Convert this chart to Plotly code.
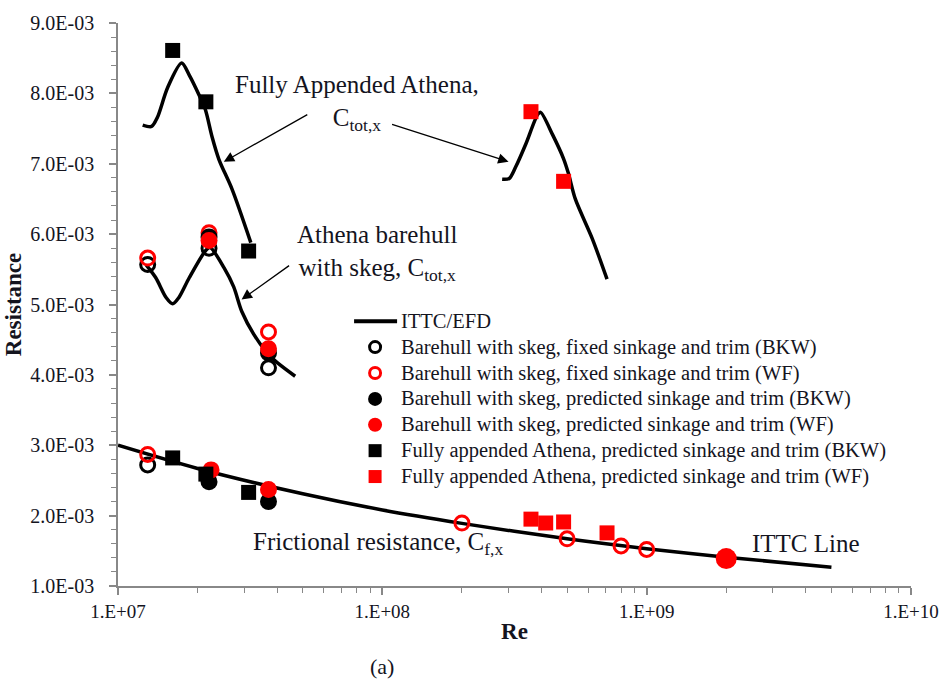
import plotly.graph_objects as go

# ---- ITTC / EFD reference curves (Re, resistance coefficient) ----
ittc_re = [1e7, 2e7, 5e7, 1e8, 2e8, 5e8, 1e9, 2e9, 5e9]
ittc_cf = [3.00e-3, 2.67e-3, 2.31e-3, 2.08e-3, 1.89e-3, 1.67e-3, 1.53e-3, 1.41e-3, 1.265e-3]

bare_efd_re = [1.28e7, 1.39e7, 1.52e7, 1.61e7, 1.70e7, 1.86e7, 2.15e7, 2.23e7, 2.52e7, 2.74e7, 2.94e7, 3.26e7, 3.77e7, 4.68e7]
bare_efd_ct = [5.56e-3, 5.38e-3, 5.10e-3, 5.01e-3, 5.10e-3, 5.38e-3, 5.77e-3, 5.81e-3, 5.52e-3, 5.25e-3, 4.90e-3, 4.58e-3, 4.26e-3, 3.98e-3]

full_bkw_efd_re = [1.24e7, 1.34e7, 1.41e7, 1.54e7, 1.74e7, 1.86e7, 2.03e7, 2.14e7, 2.27e7, 2.41e7, 2.70e7, 3.18e7]
full_bkw_efd_ct = [7.55e-3, 7.53e-3, 7.66e-3, 8.08e-3, 8.43e-3, 8.26e-3, 7.97e-3, 7.77e-3, 7.38e-3, 7.06e-3, 6.64e-3, 5.88e-3]

full_wf_efd_re = [2.84e8, 3.02e8, 3.20e8, 3.49e8, 3.87e8, 3.97e8, 4.41e8, 4.85e8, 5.06e8, 5.37e8, 6.22e8, 7.08e8]
full_wf_efd_ct = [6.78e-3, 6.79e-3, 6.96e-3, 7.28e-3, 7.70e-3, 7.73e-3, 7.41e-3, 7.07e-3, 6.86e-3, 6.50e-3, 5.94e-3, 5.36e-3]

# ---- CFD results ----
bh_fixed_bkw_re = [1.295e7, 1.295e7, 2.21e7, 3.71e7]
bh_fixed_bkw_c = [2.72e-3, 5.57e-3, 5.80e-3, 4.10e-3]

bh_fixed_wf_re = [1.295e7, 1.295e7, 2.21e7, 3.71e7, 2.0e8, 5.0e8, 8.0e8, 1.0e9]
bh_fixed_wf_c = [2.87e-3, 5.66e-3, 6.02e-3, 4.61e-3, 1.895e-3, 1.67e-3, 1.57e-3, 1.52e-3]

bh_pred_bkw_re = [2.21e7, 3.71e7, 2.21e7, 3.71e7]
bh_pred_bkw_c = [2.48e-3, 2.20e-3, 5.96e-3, 4.31e-3]

bh_pred_wf_re = [2.25e7, 3.71e7, 2.21e7, 3.71e7]
bh_pred_wf_c = [2.65e-3, 2.37e-3, 5.91e-3, 4.37e-3]
ittc_point_re = [2.0e9]
ittc_point_c = [1.39e-3]

fa_bkw_re = [1.61e7, 2.15e7, 3.12e7, 1.61e7, 2.15e7, 3.12e7]
fa_bkw_c = [2.82e-3, 2.59e-3, 2.33e-3, 8.61e-3, 7.88e-3, 5.76e-3]

fa_wf_re = [3.65e8, 4.15e8, 4.85e8, 7.08e8, 3.65e8, 4.85e8]
fa_wf_c = [1.95e-3, 1.895e-3, 1.91e-3, 1.755e-3, 7.74e-3, 6.75e-3]

# ---- axis ticks ----
x_tickvals = [1e7, 1e8, 1e9, 1e10]
x_ticktext = ["1.E+07", "1.E+08", "1.E+09", "1.E+10"]
y_tickvals = [1e-3, 2e-3, 3e-3, 4e-3, 5e-3, 6e-3, 7e-3, 8e-3, 9e-3]
y_ticktext = ["1.0E-03", "2.0E-03", "3.0E-03", "4.0E-03", "5.0E-03",
              "6.0E-03", "7.0E-03", "8.0E-03", "9.0E-03"]
x_minor = [m * 10 ** k for k in (7, 8, 9) for m in range(2, 10)]

# ---- legend entries ----
legend_names = [
    "ITTC/EFD",
    "Barehull with skeg, fixed sinkage and trim (BKW)",
    "Barehull with skeg, fixed sinkage and trim (WF)",
    "Barehull with skeg, predicted sinkage and trim (BKW)",
    "Barehull with skeg, predicted sinkage and trim (WF)",
    "Fully appended Athena, predicted sinkage and trim (BKW)",
    "Fully appended Athena, predicted sinkage and trim (WF)",
]

FONT = "Liberation Serif, Times New Roman, serif"
TXT = "#14141e"
RED = "#ff0000"

# marker styles: (kind, colour)
styles = [
    ("line", "black"),
    ("ring", "black"),
    ("ring", RED),
    ("disc", "black"),
    ("disc", RED),
    ("square", "black"),
    ("square", RED),
]

fig = go.Figure()

# EFD / ITTC curves
for xs, ys in [(ittc_re, ittc_cf), (bare_efd_re, bare_efd_ct),
               (full_bkw_efd_re, full_bkw_efd_ct), (full_wf_efd_re, full_wf_efd_ct)]:
    fig.add_trace(go.Scatter(
        x=xs, y=ys, mode="lines", name=legend_names[0],
        line=dict(color="black", width=3.5, shape="spline", smoothing=0.8),
    ))

series = [
    (bh_fixed_bkw_re, bh_fixed_bkw_c, dict(symbol="circle-open", size=14, color="black", line=dict(width=3, color="black"))),
    (bh_fixed_wf_re, bh_fixed_wf_c, dict(symbol="circle-open", size=14, color=RED, line=dict(width=3, color=RED))),
    (bh_pred_bkw_re, bh_pred_bkw_c, dict(symbol="circle", size=17, color="black")),
    (bh_pred_wf_re, bh_pred_wf_c, dict(symbol="circle", size=17, color=RED)),
    (ittc_point_re, ittc_point_c, dict(symbol="circle", size=21, color=RED)),
    (fa_bkw_re, fa_bkw_c, dict(symbol="square", size=15, color="black")),
    (fa_wf_re, fa_wf_c, dict(symbol="square", size=15, color=RED)),
]
series_names = legend_names[1:5] + [legend_names[4]] + legend_names[5:]
for (xs, ys, mk), nm in zip(series, series_names):
    fig.add_trace(go.Scatter(x=xs, y=ys, mode="markers", name=nm, marker=mk))

# plot-area geometry in pixels
L, R, T, B = 118, 31, 14, 99
W, H = 951, 685
PW, PH = W - L - R, H - T - B


def px(xp):
    return (xp - L) / PW


def py(yp):
    return (H - B - yp) / PH


ann_font = dict(family=FONT, size=25, color=TXT)
annotations = [
    dict(x=px(360), y=py(95), text="Fully Appended Athena,<br>C<sub>tot,x</sub>"),
    dict(x=px(380), y=py(248), text="Athena barehull<br>with skeg, C<sub>tot,x</sub>"),
    dict(x=px(381), y=py(543), text="Frictional resistance, C<sub>f,x</sub>"),
    dict(x=px(814), y=py(543), text="ITTC Line"),
]
for a in annotations:
    a.update(xref="paper", yref="paper", showarrow=False, font=ann_font,
             xanchor="center", yanchor="middle", align="center")

# arrows: (head x, head y, tail x, tail y) in pixels
arrows = [(225, 155, 310, 107), (513, 155, 395, 117), (243, 295, 292, 260)]
for hx, hy, tx, ty in arrows:
    annotations.append(dict(
        x=px(hx), y=py(hy), xref="paper", yref="paper", text="",
        showarrow=True, ax=tx - hx, ay=ty - hy, arrowhead=2, arrowsize=1.6,
        arrowwidth=1.3, arrowcolor="black", standoff=0,
    ))

annotations.append(dict(
    x=px(385), y=py(668), xref="paper", yref="paper", text="(a)",
    showarrow=False, font=dict(family=FONT, size=22, color=TXT),
    xanchor="center", yanchor="middle",
))

# legend box: symbols + labels
LEG_X_SYM, LEG_X_TXT, LEG_Y0, LEG_DY = 378, 402, 317, 26.3
shapes = []
for i, (name, (kind, col)) in enumerate(zip(legend_names, styles)):
    yc = py(LEG_Y0 + i * LEG_DY)
    annotations.append(dict(
        x=px(LEG_X_TXT), y=yc, xref="paper", yref="paper", text=name,
        showarrow=False, xanchor="left", yanchor="middle",
        font=dict(family=FONT, size=20.5, color=TXT),
    ))
    common = dict(xref="paper", yref="paper", xsizemode="pixel", ysizemode="pixel",
                  xanchor=px(LEG_X_SYM), yanchor=yc)
    if kind == "line":
        shapes.append(dict(type="line", x0=-21, x1=22, y0=0, y1=0,
                           line=dict(color=col, width=4), **common))
    elif kind == "ring":
        shapes.append(dict(type="circle", x0=-5.5, x1=5.5, y0=-5.5, y1=5.5,
                           line=dict(color=col, width=3), fillcolor="rgba(0,0,0,0)", **common))
    elif kind == "disc":
        shapes.append(dict(type="circle", x0=-7, x1=7, y0=-7, y1=7,
                           line=dict(width=0), fillcolor=col, **common))
    else:
        shapes.append(dict(type="rect", x0=-6.5, x1=6.5, y0=-6.5, y1=6.5,
                           line=dict(width=0), fillcolor=col, **common))

fig.update_layout(
    width=W, height=H,
    margin=dict(l=L, r=R, t=T, b=B),
    paper_bgcolor="white", plot_bgcolor="white",
    font=dict(family=FONT, color=TXT),
    showlegend=False,
    annotations=annotations,
    shapes=shapes,
    xaxis=dict(
        type="log", range=[7, 10],
        tickvals=x_tickvals, ticktext=x_ticktext,
        ticks="outside", ticklen=7, tickcolor="#888", tickwidth=1.5,
        showline=True, linecolor="#888", linewidth=1.5,
        showgrid=False, zeroline=False,
        tickfont=dict(family=FONT, size=19, color=TXT),
        ticklabelstandoff=0,
        minor=dict(tickvals=x_minor, ticks="outside", ticklen=5,
                   tickcolor="#888", tickwidth=1.2, showgrid=False),
        title=dict(text="<b>Re</b>", font=dict(family=FONT, size=23, color=TXT), standoff=2),
    ),
    yaxis=dict(
        range=[1e-3, 9e-3],
        tickvals=y_tickvals, ticktext=y_ticktext,
        ticks="outside", ticklen=7, tickcolor="#888", tickwidth=1.5,
        showline=True, linecolor="#888", linewidth=1.5,
        showgrid=False, zeroline=False,
        tickfont=dict(family=FONT, size=20, color=TXT),
        ticklabelstandoff=11,
        minor=dict(dtick=0.2e-3, ticks="outside", ticklen=5,
                   tickcolor="#888", tickwidth=1.2, showgrid=False),
        title=dict(text="<b>Resistance</b>", font=dict(family=FONT, size=23, color=TXT), standoff=2),
    ),
)

fig.write_html("out.html")
